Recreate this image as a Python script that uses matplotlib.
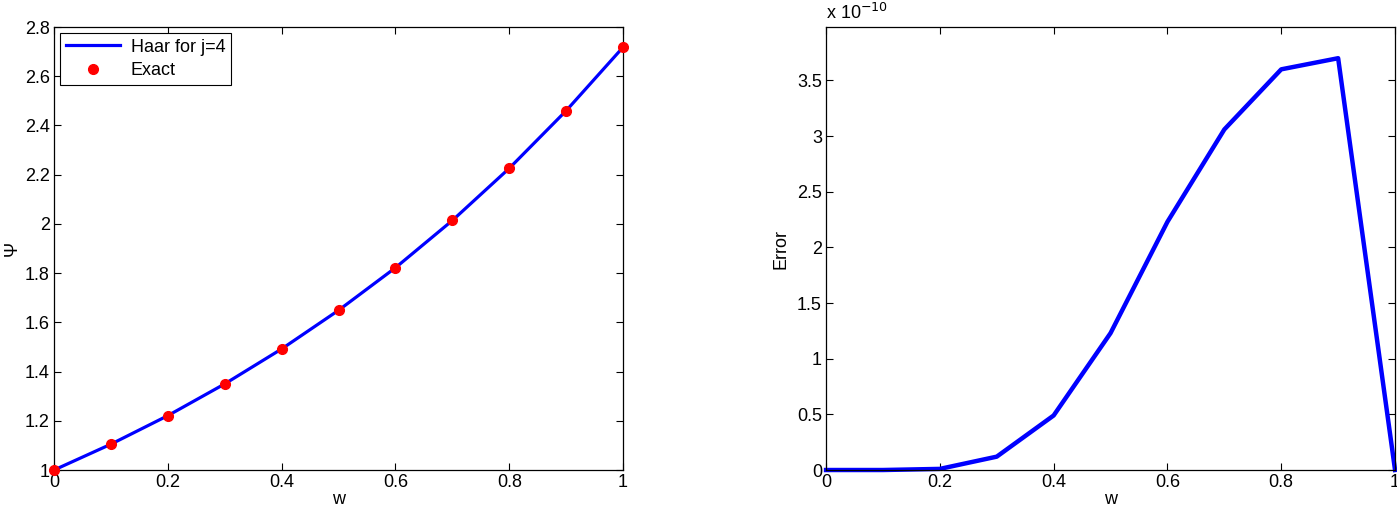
import matplotlib
matplotlib.use("Agg")
import matplotlib.pyplot as plt
from matplotlib.ticker import FuncFormatter

plt.rcParams['font.family'] = ['Liberation Sans', 'DejaVu Sans']
plt.rcParams['font.size'] = 13

# data
w = [0, 0.1, 0.2, 0.3, 0.4, 0.5, 0.6, 0.7, 0.8, 0.9, 1.0]
psi_haar = [1.0, 1.105, 1.221, 1.350, 1.492, 1.649, 1.822, 2.014, 2.226, 2.460, 2.718]
psi_exact = [1.0, 1.105, 1.221, 1.350, 1.492, 1.649, 1.822, 2.014, 2.226, 2.460, 2.718]
error = [0, 0, 0.01e-10, 0.12e-10, 0.49e-10, 1.23e-10, 2.23e-10, 3.06e-10, 3.60e-10, 3.70e-10, 0]

xticks = [0, 0.2, 0.4, 0.6, 0.8, 1]
yticks_left = [1, 1.2, 1.4, 1.6, 1.8, 2, 2.2, 2.4, 2.6, 2.8]
yticks_right = [0, 0.5e-10, 1e-10, 1.5e-10, 2e-10, 2.5e-10, 3e-10, 3.5e-10]

fig = plt.figure(figsize=(13.97, 5.13), dpi=100)
ax1 = fig.add_axes([0.0387, 0.0838, 0.4073, 0.8635])
ax2 = fig.add_axes([0.5913, 0.0838, 0.4073, 0.8635])

fmt = FuncFormatter(lambda v, p: f"{v:g}")

# left: Haar solution vs exact
ax1.plot(w, psi_haar, color='#0000ff', lw=2.3, label='Haar for j=4', zorder=2)
ax1.plot(w, psi_exact, 'o', color='#ff0000', ms=7, label='Exact', zorder=3, clip_on=False)
ax1.set_xlim(0, 1)
ax1.set_ylim(1, 2.8)
ax1.set_xticks(xticks)
ax1.set_yticks(yticks_left)
ax1.xaxis.set_major_formatter(fmt)
ax1.yaxis.set_major_formatter(fmt)
ax1.set_xlabel('w', labelpad=0)
ax1.set_ylabel('Ψ', labelpad=3)
leg = ax1.legend(loc='upper left', fancybox=False, edgecolor='black', framealpha=1,
                 borderaxespad=0.35, handlelength=3.0, fontsize=13, borderpad=0.3,
                 labelspacing=0.35, handletextpad=0.6)
leg.get_frame().set_linewidth(0.8)

# right: error
ax2.plot(w, error, color='#0000ff', lw=3.2, clip_on=False)
ax2.set_xlim(0, 1)
ax2.set_ylim(0, 3.98e-10)
ax2.set_xticks(xticks)
ax2.set_yticks(yticks_right)
ax2.xaxis.set_major_formatter(fmt)
ax2.yaxis.set_major_formatter(FuncFormatter(lambda v, p: f"{v * 1e10:g}"))
ax2.set_xlabel('w', labelpad=0)
ax2.set_ylabel('Error', labelpad=5)
ax2.text(0, 1.008, r'x 10$^{-10}$', transform=ax2.transAxes, ha='left', va='bottom', fontsize=13)

for ax in (ax1, ax2):
    ax.tick_params(direction='in', top=True, right=True, length=5, width=0.8, labelsize=13, pad=3)
    for s in ax.spines.values():
        s.set_linewidth(0.9)

fig.savefig('out.png', dpi=100)
